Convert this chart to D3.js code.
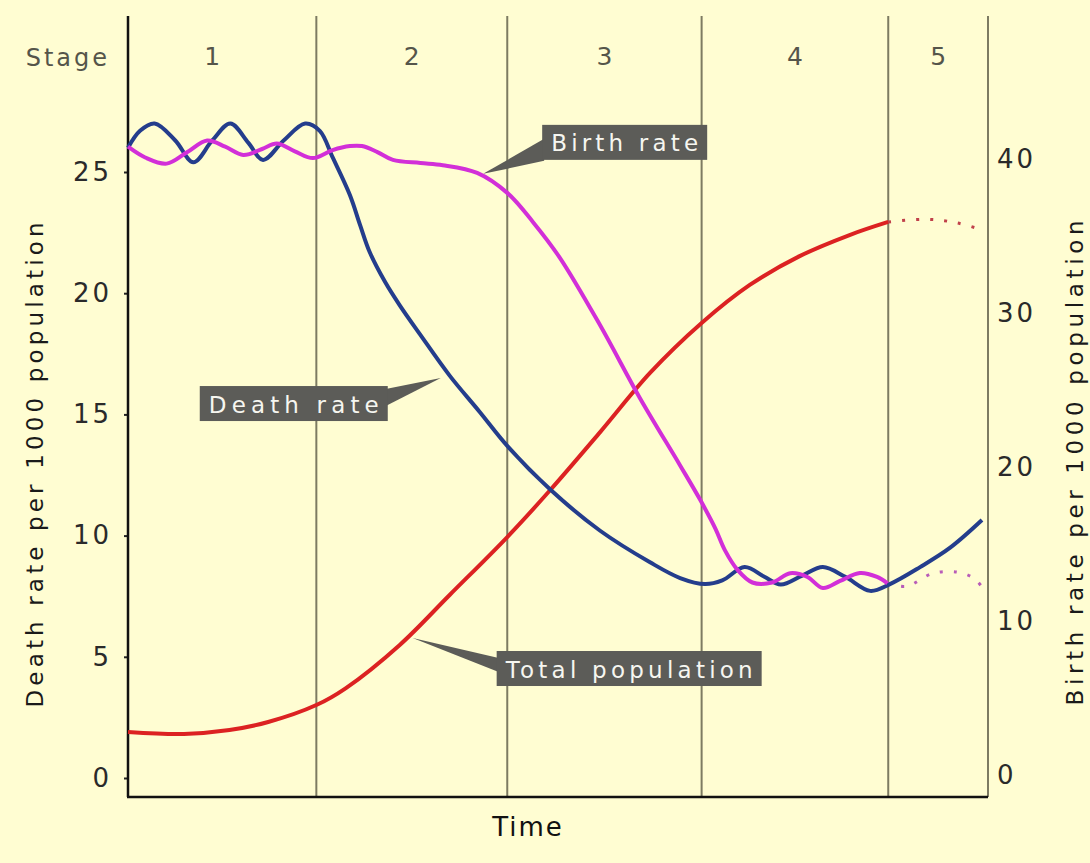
<!DOCTYPE html>
<html>
<head>
<meta charset="utf-8">
<script src="https://cdn.jsdelivr.net/npm/d3@7"></script>
<style>
  html, body { margin: 0; padding: 0; background: #fffdd2; }
  svg { display: block; }
  text { font-family: "DejaVu Sans", sans-serif; }
</style>
</head>
<body>
<div id="chart"></div>
<script>
// time runs 0..100 across the plot, stage borders in the same units
var stageBounds = [21.9, 44.1, 66.7, 88.4];
var stageLabels = ["1", "2", "3", "4", "5"];
var deathTicks = [0, 5, 10, 15, 20, 25];
var birthTicks = [0, 10, 20, 30, 40];

// death rate per 1000 (left axis)
var deathT = [0, 1.4, 3.1, 5.5, 7.6, 9.8, 11.9, 14.0, 15.7, 18.1, 20.6, 22.3, 23.8, 25.8, 27.0, 28.1, 29.9, 31.6, 34.0, 37.4, 40.9, 44.1, 49.1, 54.9, 60.7, 64.2, 67.1, 69.1, 71.7, 74.0, 75.9, 78.4, 80.8, 83.4, 86.3, 88.6, 92.1, 95.6, 99.3];
var deathV = [26.0, 26.7, 27.0, 26.3, 25.4, 26.3, 27.0, 26.2, 25.5, 26.3, 27.0, 26.7, 25.6, 24.05, 22.8, 21.7, 20.46, 19.5, 18.28, 16.6, 15.1, 13.7, 11.9, 10.2, 8.9, 8.25, 8.0, 8.15, 8.7, 8.3, 7.98, 8.35, 8.7, 8.3, 7.72, 8.0, 8.7, 9.5, 10.64];

// birth rate per 1000 (right axis)
var birthT = [0, 2.0, 4.5, 6.9, 9.2, 11.3, 13.4, 15.6, 17.3, 19.4, 21.5, 23.8, 25.8, 27.2, 29.0, 30.8, 34.0, 36.6, 40.6, 44.1, 47.1, 50.2, 54.9, 59.5, 64.2, 66.5, 68.3, 69.4, 70.9, 72.6, 74.9, 77.0, 79.0, 80.8, 82.8, 85.1, 87.1, 88.3];
var birthV = [40.8, 40.1, 39.7, 40.45, 41.2, 40.8, 40.26, 40.65, 41.0, 40.5, 40.06, 40.58, 40.84, 40.84, 40.45, 39.94, 39.74, 39.6, 39.1, 37.8, 35.9, 33.6, 29.2, 24.5, 20.1, 17.9, 16.0, 14.6, 13.3, 12.5, 12.5, 13.1, 12.86, 12.14, 12.6, 13.12, 12.86, 12.45];
var birthProjT = [88.3, 90.5, 93.6, 96.4, 98.3, 99.4];
var birthProjV = [12.45, 12.25, 13.1, 13.18, 12.8, 12.14];

// total population, relative index (no axis of its own)
var popT = [0, 6.5, 11.8, 16.3, 21.9, 25.3, 31.6, 37.4, 44.1, 49.1, 54.9, 60.7, 66.7, 72.3, 78.1, 83.9, 88.4];
var popV = [1.9, 1.82, 1.98, 2.31, 3.01, 3.7, 5.49, 7.55, 9.94, 11.88, 14.27, 16.71, 18.77, 20.34, 21.53, 22.4, 22.94];
var popProjT = [88.4, 92.9, 96.4, 99.4];
var popProjV = [22.94, 23.05, 22.9, 22.6];

var width = 1090, height = 863;
var plotLeft = 128, plotRight = 988, plotTop = 16, plotBottom = 797;

var svg = d3.select("#chart").append("svg")
    .attr("width", width)
    .attr("height", height)
    .style("background-color", "#fffdd2");

var x = d3.scaleLinear().domain([0, 100]).range([plotLeft, plotRight]);
var yDeath = d3.scaleLinear().domain([0, 25]).range([778, 172]);
var yBirth = d3.scaleLinear().domain([0, 40]).range([775, 159]);
var yPop = d3.scaleLinear().domain([0, 25]).range([778, 172]);

// stage dividers and right border
svg.append("g").selectAll("line")
    .data(stageBounds.concat([100]))
    .enter().append("line")
    .attr("x1", d => x(d)).attr("x2", d => x(d))
    .attr("y1", plotTop).attr("y2", plotBottom)
    .attr("stroke", "#7d7b62")
    .attr("stroke-width", 2);

// stage labels
var stageEdges = [0].concat(stageBounds, [100]);
svg.append("g").selectAll("text")
    .data(stageLabels)
    .enter().append("text")
    .attr("x", (d, i) => x((stageEdges[i] + stageEdges[i + 1]) / 2) - (i === 0 ? 10 : 0))
    .attr("y", 65)
    .attr("text-anchor", "middle")
    .style("font-size", "25px")
    .style("fill", "#55554a")
    .text(d => d);

svg.append("text")
    .attr("x", 110).attr("y", 66)
    .attr("text-anchor", "end")
    .style("font-size", "24px")
    .style("letter-spacing", "3px")
    .style("fill", "#55554a")
    .text("Stage");

// axes
var axL = svg.append("g")
    .attr("transform", "translate(" + plotLeft + ",0)")
    .call(d3.axisLeft(yDeath).tickValues(deathTicks).tickSize(4).tickPadding(12).tickFormat(d3.format("d")));
axL.select(".domain").remove();
axL.selectAll("text").style("font-size", "26px").style("letter-spacing", "3px").style("fill", "#2a2a2a").attr("font-family", null);
axL.selectAll("line").attr("stroke", "#222").attr("stroke-width", 2);

var axR = svg.append("g")
    .attr("transform", "translate(" + plotRight + ",0)")
    .call(d3.axisRight(yBirth).tickValues(birthTicks).tickSize(0).tickPadding(9).tickFormat(d3.format("d")));
axR.select(".domain").remove();
axR.selectAll("text").style("font-size", "26px").style("letter-spacing", "3px").style("fill", "#2a2a2a").attr("font-family", null);

// frame
svg.append("line").attr("x1", plotLeft).attr("x2", plotLeft).attr("y1", plotTop).attr("y2", plotBottom)
    .attr("stroke", "#111").attr("stroke-width", 2.5);
svg.append("line").attr("x1", plotLeft - 1).attr("x2", plotRight).attr("y1", plotBottom).attr("y2", plotBottom)
    .attr("stroke", "#111").attr("stroke-width", 2.5);

// axis titles
svg.append("text")
    .attr("transform", "translate(35,465) rotate(-90)")
    .attr("text-anchor", "middle")
    .attr("dominant-baseline", "central")
    .attr("textLength", 485)
    .attr("lengthAdjust", "spacing")
    .style("font-size", "23px")
    .style("fill", "#1a1a1a")
    .text("Death rate per 1000 population");

svg.append("text")
    .attr("transform", "translate(1075,463) rotate(-90)")
    .attr("text-anchor", "middle")
    .attr("dominant-baseline", "central")
    .attr("textLength", 485)
    .attr("lengthAdjust", "spacing")
    .style("font-size", "23px")
    .style("fill", "#1a1a1a")
    .text("Birth rate per 1000 population");

svg.append("text")
    .attr("x", 528).attr("y", 836)
    .attr("text-anchor", "middle")
    .style("font-size", "26px")
    .style("letter-spacing", "2px")
    .style("fill", "#111")
    .text("Time");

// curves
function series(ts, vs, yScale) {
    return ts.map((t, i) => ({ t: t, v: vs[i], y: yScale }));
}
var line = d3.line()
    .x(d => x(d.t))
    .y(d => d.y(d.v))
    .curve(d3.curveCatmullRom.alpha(0.5));

var curves = [
    { data: series(popT, popV, yPop), color: "#dc2222", width: 4, dash: null },
    { data: series(popProjT, popProjV, yPop), color: "#c0404a", width: 3, dash: "3 11" },
    { data: series(birthProjT, birthProjV, yBirth), color: "#b85cb8", width: 3, dash: "3 11" },
    { data: series(deathT, deathV, yDeath), color: "#243d8c", width: 4, dash: null },
    { data: series(birthT, birthV, yBirth), color: "#d22fd8", width: 4, dash: null }
];

svg.append("g").selectAll("path")
    .data(curves)
    .enter().append("path")
    .attr("d", d => line(d.data))
    .attr("fill", "none")
    .attr("stroke", d => d.color)
    .attr("stroke-width", d => d.width)
    .attr("stroke-dasharray", d => d.dash)
    .attr("stroke-linejoin", "round");

// callout labels, tip anchored on the curve they point at
function valueAt(ts, vs, t) {
    return d3.scaleLinear().domain(ts).range(vs)(t);
}
var callouts = [
    { label: "Birth rate", t: 41.3, v: valueAt(birthT, birthV, 41.3), y: yBirth, tip: [0, -3], box: [59, -49, 165], base: "left", baseY: [14, 36] },
    { label: "Death rate", t: 36.6, v: valueAt(deathT, deathV, 36.6), y: yDeath, tip: [-2, 12], box: [-241, 8, 188], base: "right", baseY: [3, 20] },
    { label: "Total population", t: 33.1, v: valueAt(popT, popV, 33.1), y: yPop, tip: [0, 6], box: [84, 13, 265], base: "left", baseY: [7, 21] }
];
var boxH = 35;

var co = svg.append("g").selectAll("g")
    .data(callouts)
    .enter().append("g")
    .attr("transform", d => "translate(" + (x(d.t) + d.tip[0]) + "," + (d.y(d.v) + d.tip[1]) + ")");

co.append("path")
    .attr("d", d => {
        var bx = d.base === "left" ? d.box[0] + 2 : d.box[0] + d.box[2] - 2;
        return "M0,0L" + bx + "," + (d.box[1] + d.baseY[0]) + "L" + bx + "," + (d.box[1] + d.baseY[1]) + "Z";
    })
    .attr("fill", "#5c5c58");

co.append("rect")
    .attr("x", d => d.box[0])
    .attr("y", d => d.box[1])
    .attr("width", d => d.box[2])
    .attr("height", boxH)
    .attr("fill", "#5c5c58");

co.append("text")
    .attr("x", d => d.box[0] + d.box[2] / 2)
    .attr("y", d => d.box[1] + boxH / 2 + 1)
    .attr("text-anchor", "middle")
    .attr("dominant-baseline", "central")
    .attr("textLength", d => d.box[2] - 18)
    .attr("lengthAdjust", "spacing")
    .style("font-size", "23px")
    .style("fill", "#f6f6f0")
    .text(d => d.label);
</script>
</body>
</html>
